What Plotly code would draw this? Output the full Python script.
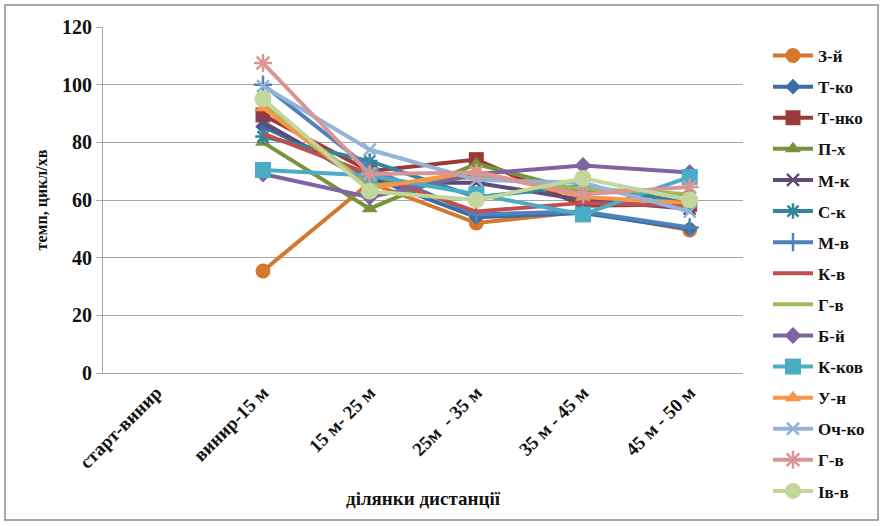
import plotly.graph_objects as go

categories = ["старт-винир", "винир-15 м", "15 м- 25 м", "25м  - 35 м", "35 м - 45 м", "45 м - 50 м"]

names = ["З-й", "Т-ко", "Т-нко", "П-х", "М-к", "С-к", "М-в", "К-в", "Г-в", "Б-й", "К-ков", "У-н", "Оч-ко", "Г-в", "Ів-в"]

z_y   = [None, 35.4, 66, 52, 56, 49.6]
t_ko  = [None, 85.5, 68, 54, 55.5, 50]
t_nko = [None, 89.5, 70, 74, 58, 58.5]
p_kh  = [None, 80, 57, 72.5, 63, 62]
m_k   = [None, 87, 66, 66, 60, 57]
s_k   = [None, 82, 73.5, 61, 65, 59]
m_v   = [None, 100, 71, 55, 56, 50.5]
k_v   = [None, 83, 69, 56, 59, 58]
h_v   = [None, 93, 65, 68, 64, 62]
b_y   = [None, 69, 61, 69, 72, 69.5]
k_kov = [None, 70.4, 68.5, 62, 55, 68]
u_n   = [None, 92, 64, 70, 61, 59]
och   = [None, 99.5, 77.5, 67, 66, 56]
h_v2  = [None, 107.5, 69, 69.5, 62, 64.5]
iv_v  = [None, 95, 63, 60, 67.5, 60]

series = [z_y, t_ko, t_nko, p_kh, m_k, s_k, m_v, k_v, h_v, b_y, k_kov, u_n, och, h_v2, iv_v]

colors = ["#D5782E", "#3A6DA6", "#9C3A37", "#77933C", "#604A7B", "#31859C", "#4F81BD",
          "#C0504D", "#9BBB59", "#8064A2", "#4BACC6", "#F79646", "#95B3D7", "#D99694", "#C3D69B"]
symbols = ["circle", "diamond", "square", "triangle-up", "x-thin", "asterisk", "cross-thin",
           None, None, "diamond", "square", "triangle-up", "x-thin", "asterisk", "circle"]
sizes = [15, 12, 15, 14, 12, 13, 13, 0, 0, 13, 16, 14, 12, 15, 17]

serif = "Liberation Serif"
txt = "#111111"

fig = go.Figure()
for i, (nm, vals) in enumerate(zip(names, series)):
    sym = symbols[i]
    marker = dict(color=colors[i], size=sizes[i])
    if sym is not None:
        marker["symbol"] = sym
        if sym in ("x-thin", "asterisk", "cross-thin"):
            marker["line"] = dict(color=colors[i], width=2.5)
    fig.add_trace(go.Scatter(
        x=categories, y=vals, name=nm,
        mode="lines+markers" if sym is not None else "lines",
        line=dict(color=colors[i], width=4),
        marker=marker,
        legendgroup=f"g{i}",
    ))

W, H = 883, 526
ml, mr, mt, mb = 103, 140, 27, 153
pw, ph = W - ml - mr, H - mt - mb

def px_x(x):
    return (x - ml) / pw

def px_y(y):
    return (H - mb - y) / ph

fig.update_layout(
    width=W, height=H,
    margin=dict(l=ml, r=mr, t=mt, b=mb),
    paper_bgcolor="white", plot_bgcolor="white",
    showlegend=True,
    legend=dict(
        x=px_x(768), y=px_y(38), xanchor="left", yanchor="top",
        font=dict(family=serif, size=17, color=txt, weight="bold"),
        tracegroupgap=6, itemwidth=40, maxheight=600,
        bgcolor="rgba(0,0,0,0)",
    ),
    xaxis=dict(
        type="category", categoryorder="array", categoryarray=categories,
        range=[-0.5, 5.5],
        showline=True, linecolor="#A6A6A6", linewidth=1,
        showgrid=False, tickangle=-45,
        tickfont=dict(family=serif, size=19, color=txt, weight="bold"),
        title=dict(text="ділянки дистанції", standoff=20,
                   font=dict(family=serif, size=19, color=txt, weight="bold")),
        ticks="", fixedrange=True,
    ),
    yaxis=dict(
        range=[0, 120], dtick=20,
        showline=True, linecolor="#A6A6A6", linewidth=1,
        showgrid=True, gridcolor="#A6A6A6", gridwidth=1,
        ticks="outside", ticklen=6, tickcolor="#A6A6A6",
        tickfont=dict(family=serif, size=20, color=txt, weight="bold"),
        title=dict(text="темп, цикл/хв", standoff=10,
                   font=dict(family=serif, size=16, color=txt, weight="bold")),
        zeroline=False, fixedrange=True,
    ),
    shapes=[dict(type="rect", xref="paper", yref="paper",
                 x0=px_x(5), x1=px_x(878), y0=px_y(520), y1=px_y(5),
                 line=dict(color="#8C8C8C", width=1.5), fillcolor="rgba(0,0,0,0)",
                 layer="below")],
)

fig.write_html("out.html")
